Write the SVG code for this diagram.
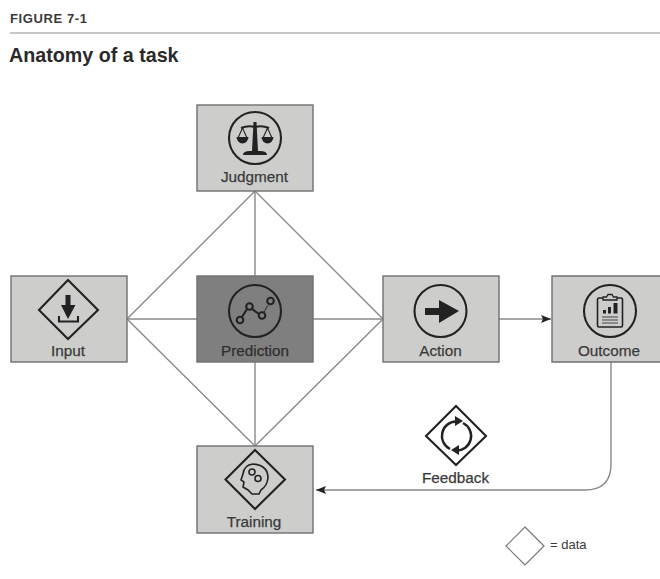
<svg xmlns="http://www.w3.org/2000/svg" width="660" height="579" viewBox="0 0 660 579">
<style>
text{font-family:"Liberation Sans",Arial,sans-serif;fill:#3a3a3a}
.lbl{font-size:15.300px;text-anchor:middle;stroke:#3a3a3a;stroke-width:.25}
.box{fill:#cdcecc;stroke:#707070;stroke-width:1.400}
.icon{fill:none;stroke:#222;stroke-width:2.100}
.thin{fill:none;stroke:#222;stroke-width:1.600}
.solid{fill:#222;stroke:none}
.conn{fill:none;stroke:#8a8a8a;stroke-width:1.400}
</style>
<defs>
<marker id="arrow" markerUnits="userSpaceOnUse" markerWidth="11" markerHeight="8" refX="10" refY="4" orient="auto"><path d="M0 0L10 4L0 8L2 4Z" fill="#222"/></marker>
</defs>
<rect width="660" height="579" fill="#fff"/>
<text x="10" y="23" font-size="13" font-weight="700" letter-spacing=".6">FIGURE 7-1</text>
<line x1="10" y1="33" x2="660" y2="33" stroke="#b5b5b5" stroke-width="1.600"/>
<text x="9" y="62" font-size="19.700" font-weight="700" style="fill:#2a2a2a">Anatomy of a task</text>
<g id="connectors">
<path class="conn" d="M127 319L255 191L383 319L255 446Z"/>
<path class="conn" d="M255 191V276M255 362V446M127 319H197M313 319H383"/>
<path class="conn" d="M499 319H551" marker-end="url(#arrow)"/>
<path class="conn" d="M611 362V464Q611 490 585 490H316" marker-end="url(#arrow)"/>
</g>
<g id="judgment">
<rect class="box" x="197" y="105" width="116" height="86"/>
<circle class="icon" cx="255" cy="138" r="26"/>
<path class="solid" d="M253.500 122h3l1.500 29h-6Z"/>
<path class="icon" d="M241 128Q248 125 255 127Q262 125 269 128"/>
<path class="solid" d="M243 155Q243 151 250 151H260Q267 151 267 155Z"/>
<path d="M242.500 128L238 138M242.500 128L247 138M267.500 128L263 138M267.500 128L272 138" fill="none" stroke="#222" stroke-width="1.100"/>
<path class="solid" d="M236.500 137h12a6 6.500 0 0 1-12 0Z"/>
<path class="solid" d="M261.500 137h12a6 6.500 0 0 1-12 0Z"/>
<text class="lbl" x="254.500" y="182">Judgment</text>
</g>
<g id="input">
<rect class="box" x="11" y="276" width="116" height="86"/>
<path class="icon" d="M68 280L98 310L68 339L39 310Z"/>
<path class="solid" d="M65.500 295h5v10h5L68 319L61 305h4.500Z"/>
<path class="icon" d="M59 316V321.500H78V316"/>
<text class="lbl" x="68" y="356">Input</text>
</g>
<g id="prediction">
<rect class="box" x="197" y="276" width="116" height="86" style="fill:#7f7f7f"/>
<circle class="icon" cx="255" cy="311" r="26"/>
<path class="icon" d="M242 317L247 309M252 309L259 314"/>
<path d="M264 312L268 305" fill="none" stroke="#222" stroke-width="1.300" stroke-dasharray="1.500 1"/>
<circle class="icon" cx="240" cy="320" r="3.300"/>
<circle class="icon" cx="249.500" cy="306.500" r="3.300"/>
<circle class="icon" cx="262" cy="315.500" r="3.300"/>
<circle class="icon" cx="270.500" cy="301" r="3.300"/>
<text class="lbl" x="255" y="356" style="fill:#2b2b2b">Prediction</text>
</g>
<g id="action">
<rect class="box" x="383" y="276" width="116" height="86"/>
<circle class="icon" cx="440.500" cy="311" r="26"/>
<path class="solid" d="M425 308H439V300L459 311L439 323V315H425Z"/>
<text class="lbl" x="440.500" y="356">Action</text>
</g>
<g id="outcome">
<path class="box" d="M660 276H552V362H660"/>
<circle class="icon" cx="610" cy="311" r="26"/>
<rect class="thin" x="597.500" y="298" width="25" height="29" rx="1.500"/>
<path d="M603 300v-3h3.500l1.500-2.500h4l1.500 2.500h3.500v3Z" fill="#cdcecc" stroke="#222" stroke-width="1.300"/>
<path class="solid" d="M603 310h3v3.500h-3ZM608 307h3v6.500h-3ZM613.500 303h4v10.500h-4Z"/>
<path d="M602 317H618M602 320H618M602 323H618" fill="none" stroke="#444" stroke-width="1.100"/>
<text class="lbl" x="609" y="356">Outcome</text>
</g>
<g id="training">
<rect class="box" x="197" y="446" width="116" height="87"/>
<path class="icon" d="M255 450L285 479.500L255 509L225.500 479.500Z"/>
<path class="thin" d="M253 464Q268 465 268 478Q267 486 261 490L259 494L252 494L248 490L243 487L244 482L241 480L243 474Q244 465 253 464Z"/>
<circle class="thin" cx="252" cy="472" r="3"/>
<circle class="thin" cx="258" cy="478.500" r="3"/>
<text class="lbl" x="254" y="527">Training</text>
</g>
<g id="feedback">
<path class="icon" d="M456 406L486 436L456 465L426 436Z"/>
<path d="M456 421.500A14.500 14.500 0 0 0 450 449M456 450.500A14.500 14.500 0 0 0 463 423" fill="none" stroke="#222" stroke-width="2.500"/>
<path class="solid" d="M455 416L463 421L455 426ZM459 445L451 450L459 455Z"/>
<text class="lbl" x="455.500" y="483">Feedback</text>
</g>
<g id="legend">
<path d="M525 527L544 546L525 565L506 546Z" fill="#fff" stroke="#777" stroke-width="1.200"/>
<text x="550" y="549" font-size="13">= data</text>
</g>
</svg>
